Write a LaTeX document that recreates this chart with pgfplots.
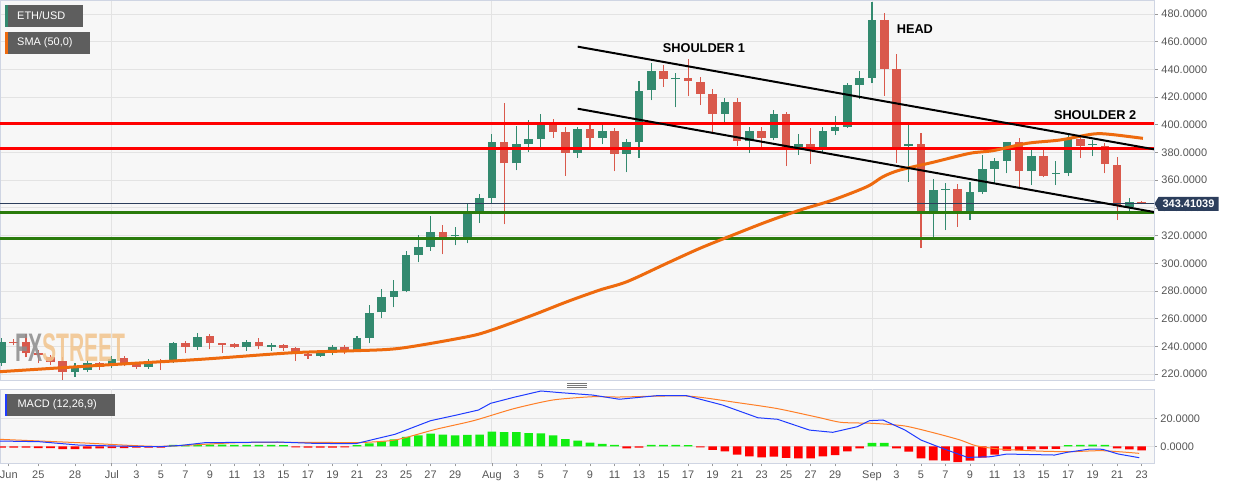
\documentclass[border=0pt]{standalone}
\usepackage{pgfplots}
\pgfplotsset{compat=1.18}
\usepackage{pgfplotstable}
\usepackage{fontspec}
\setmainfont{Liberation Sans}
\definecolor{bgc}{HTML}{F7F7F7}
\definecolor{bordc}{HTML}{CFD5E3}
\definecolor{gridc}{HTML}{E3E3E3}
\definecolor{labc}{HTML}{555555}
\definecolor{cgreen}{HTML}{338A6F}
\definecolor{cred}{HTML}{D9594C}
\definecolor{smac}{HTML}{EE6A0E}
\definecolor{hred}{HTML}{FF0000}
\definecolor{hgreen}{HTML}{2A7B0C}
\definecolor{navyc}{HTML}{2C3E5C}
\definecolor{mblue}{HTML}{1F3BFF}
\definecolor{morange}{HTML}{FF7F27}
\definecolor{histg}{HTML}{11EE11}
\definecolor{histr}{HTML}{FF0000}
\definecolor{boxg}{HTML}{5E5E5E}
\definecolor{wmgray}{HTML}{8C8C8C}
\definecolor{wmorange}{HTML}{F2C48D}
\newcommand\ticksf{\fontsize{11}{13}\selectfont}

% green candles: t low high bodylow bodyhigh
\pgfplotstableread{
t l h bl bh
0 226 246 228.2 243.3
6 218 227.7 221.4 224.6
7 221.7 230.1 222.9 227.7
9 224.5 233 226.3 231.0
12 224 230.6 225.3 228.9
14 228 243.5 229.4 242.2
16 237.3 249.4 239.7 246.9
20 236.8 244.5 239.3 242.9
22 236.8 242.5 239.8 240.9
26 232.5 236.5 233.0 235.9
27 233.5 240.7 237.1 239.5
29 236.8 247.4 237.3 246.0
30 242.2 269.6 246.2 264.3
31 260.2 281.2 264.6 275.6
32 268.2 287.9 275.8 279.9
33 279 309 279.9 305.7
34 300.7 320.2 305.9 311.5
35 309 333.9 311.7 322.3
37 312.9 326.4 319.5 320.3
38 314.4 342.6 319.2 335.3
39 328.9 350 335.3 346.9
40 343.3 393.3 346.9 387.3
42 367.1 399.1 372.2 385.9
43 380.5 403.4 386.1 389.5
44 384.2 407.5 389.7 400.1
47 376.2 398.6 379.8 397.2
49 385.9 399.8 390.7 395.7
51 365.7 389.5 378.9 387.2
52 376.3 431.6 387.2 424.6
53 417.6 444.8 424.9 438.6
55 412.6 437.6 432.8 433.6
59 402.2 419.1 408.0 416.1
61 379.6 398.4 388.0 395.5
63 388.7 410.5 390.8 407.9
65 378.2 393.1 384.0 386.0
67 380.6 398.2 384.2 395.5
68 392.6 406.3 395.7 398.4
69 397.9 430.4 398.6 429.0
70 418.4 439.1 429.0 433.8
71 429.9 488.4 433.8 475.7
74 358.9 399.8 384.6 385.9
76 316.8 360.6 335.3 352.9
77 324.0 358.2 352.9 353.7
79 331.2 358.9 337.7 351.1
80 350.0 378.2 351.2 368.1
81 357.7 376.2 368.1 373.8
82 364.9 387.8 373.8 387.8
84 356.5 384.2 366.6 377.4
86 356.5 373.8 364.6 365.4
87 363.0 394.3 365.4 389.5
89 377.4 389.0 385.5 386.3
92 337.9 346.9 340.4 344.2
}\upc

% red candles: t low high bodylow bodyhigh
\pgfplotstableread{
t l h bl bh
1 240.7 245.1 242.6 243.4
2 232.1 248.7 234.9 242.9
3 227.7 237.3 233.7 234.9
4 226.5 233.7 228.9 232.1
5 213 232.5 221.4 229.2
8 223 229 225.3 228.2
10 225.5 233 227 231.5
11 223.7 229 225.3 227.7
13 222.9 230.6 228.5 229.3
15 234.9 244 239.7 242.2
17 237.8 248.7 242.2 247.4
18 235.4 242.6 241.0 242.2
19 238.5 242.2 239.3 241.4
21 237.8 246.2 240.0 242.9
23 236.8 241.8 238.8 240.7
24 229.6 239.7 234.2 238.5
25 231 235 233.0 234.2
28 234.2 240.7 237.1 239.5
36 306.4 327.4 318.9 322.3
41 328.1 415.5 372.2 387.3
45 390.7 403.9 395.0 400.1
46 363.2 398.6 379.8 394.8
48 384.2 399.8 390.7 397.2
50 366.3 397.9 378.9 395.5
54 427.5 442.9 432.8 438.6
56 420.5 447.3 431.5 433.6
57 414.2 434.2 422.5 431.2
58 395 425.5 408.0 422.1
60 384.9 419.1 388.0 416.1
62 384.2 398.2 390.8 395.5
64 370.2 409.2 384.2 407.9
66 371.8 397.6 384.2 386.0
72 421.0 480.5 440.1 475.7
73 372.2 450.9 384.2 440.1
75 310.8 394.3 335.3 385.9
78 326.4 357.0 337.7 353.4
83 354.8 390.2 366.6 387.8
85 362.1 381.8 363.0 377.4
88 375.8 391.4 384.7 389.5
90 364.9 387.1 371.5 384.7
91 331.2 376.5 341.3 370.7
93 342.6 345.3 343.0 344.2
}\dnc

\pgfplotstableread{
t v
14 1.0
15 1.0
16 1.2
17 1.3
18 1.2
19 1.1
20 1.0
21 1.0
22 1.0
23 0.8
29 0.8
30 2.1
31 3.6
32 5.0
33 6.7
34 7.9
35 9.0
36 8.3
37 7.9
38 8.1
39 8.3
40 10.5
41 10.2
42 10.2
43 9.5
44 9.3
45 7.9
46 5.2
47 4.0
48 2.6
49 1.7
50 1.0
53 1.0
54 1.1
55 1.0
56 0.8
71 2.4
72 2.4
87 0.8
88 1.0
89 1.3
90 1.0
}\hpos

\pgfplotstableread{
t v
0 -1.0
1 -1.0
2 -1.0
3 -1.2
4 -1.2
5 -1.9
6 -1.9
7 -1.6
8 -1.4
9 -1.3
10 -1.2
11 -1.0
12 -1.0
13 -0.9
24 -0.8
25 -1.0
26 -1.0
27 -1.0
28 -0.8
51 -1.4
52 -1.0
57 -0.8
58 -2.6
59 -3.6
60 -6.0
61 -7.1
62 -7.9
63 -7.4
64 -8.3
65 -8.6
66 -8.6
67 -7.1
68 -6.2
69 -3.6
70 -1.4
73 -1.4
74 -3.8
75 -8.6
76 -10.0
77 -10.2
78 -11.2
79 -10.2
80 -8.1
81 -6.0
82 -3.0
83 -2.8
84 -2.2
85 -2.0
86 -1.8
91 -1.4
92 -2.2
93 -2.8
}\hneg

\pgfplotsset{
  panel/.style={
    scale only axis, width=1154bp,
    xmin=-0.12, xmax=94.0,
    axis background/.style={fill=bgc},
    axis line style={draw=bordc, line width=0.8bp},
    tick align=outside, major tick length=4bp,
    ytick pos=right, yticklabel pos=right,
    ytick style={draw=labc!60, line width=0.7bp},
    tick label style={font=\ticksf, text=labc},
    yticklabel style={/pgf/number format/.cd, fixed, fixed zerofill, precision=4, 1000 sep={}, assume math mode=true},
    scaled y ticks=false,
    major grid style={draw=gridc, line width=0.8bp},
  }
}

\begin{document}
\begin{tikzpicture}[x=1bp,y=1bp]

% ---------------- main price panel ----------------
\begin{axis}[panel,
  name=main,
  at={(0bp,0bp)}, anchor=south west, height=380bp,
  ymin=215.7, ymax=490.1,
  ytick={220,240,...,480},
  xtick={9,40,71}, xticklabels={}, xtick style={draw=none},
  grid=major,
]
% wicks
\addplot[draw=none, mark=none, forget plot,
  error bars/.cd, y dir=plus, y explicit, error mark=none,
  error bar style={line width=1.1bp, draw=cgreen, solid}]
  table[x=t, y=l, y error expr=\thisrow{h}-\thisrow{l}] {\upc};
\addplot[draw=none, mark=none, forget plot,
  error bars/.cd, y dir=plus, y explicit, error mark=none,
  error bar style={line width=1.1bp, draw=cred, solid}]
  table[x=t, y=l, y error expr=\thisrow{h}-\thisrow{l}] {\dnc};
% bodies
\addplot[draw=none, mark=none, forget plot,
  error bars/.cd, y dir=plus, y explicit, error mark=none,
  error bar style={line width=8.6bp, draw=cgreen, solid}]
  table[x=t, y=bl, y error expr=\thisrow{bh}-\thisrow{bl}] {\upc};
\addplot[draw=none, mark=none, forget plot,
  error bars/.cd, y dir=plus, y explicit, error mark=none,
  error bar style={line width=8.6bp, draw=cred, solid}]
  table[x=t, y=bl, y error expr=\thisrow{bh}-\thisrow{bl}] {\dnc};
% support / resistance
\addplot[hred, line width=3.2bp, forget plot] coordinates {(-1,401.0) (95,401.0)};
\addplot[hred, line width=3.2bp, forget plot] coordinates {(-1,383.0) (95,383.0)};
\addplot[hgreen, line width=3.2bp, forget plot] coordinates {(-1,336.8) (95,336.8)};
\addplot[hgreen, line width=3.2bp, forget plot] coordinates {(-1,318.0) (95,318.0)};
\addplot[navyc, line width=0.9bp, forget plot] coordinates {(-1,343.41) (95,343.41)};
% SMA 50
\addplot[smac, line width=3bp, smooth, tension=0.5, forget plot] coordinates {
(-0.13,221.7) (8.03,226.3) (16.19,230.6) (23.77,235.4) (28.67,236.8) (32.5,238.6)
(37.97,246.9) (40.0,251.8) (43.35,262.6) (46.12,272.2) (48.81,280.7) (51.02,286.7)
(54.28,300.0) (56.97,310.8) (59.66,320.4) (62.43,330.0) (65.13,338.4) (67.82,345.7)
(70.59,355.3) (71.9,362.5) (73.28,367.3) (75.98,372.9) (78.99,379.4) (80.87,381.3)
(83.65,386.6) (86.33,389.0) (89.02,393.3) (90.41,393.1) (93.1,390.2)};
% trend lines
\addplot[black, line width=2bp, forget plot] coordinates {(47.0,456.4) (94.0,382.3)};
\addplot[black, line width=2bp, forget plot] coordinates {(47.0,411.6) (94.0,337.0)};
\node[font=\fontsize{12.8}{14}\selectfont\bfseries] at (axis cs:57.3,455) {SHOULDER 1};
\node[font=\fontsize{12.8}{14}\selectfont\bfseries] at (axis cs:74.5,469) {HEAD};
\node[font=\fontsize{12.8}{14}\selectfont\bfseries] at (axis cs:89.2,407.3) {SHOULDER 2};
\end{axis}

% ---------------- MACD panel ----------------
\begin{axis}[panel,
  name=macd,
  at={(0bp,-9.3bp)}, anchor=north west, height=74bp,
  ymin=-12.1, ymax=40.7,
  ytick={0,20},
  xtick pos=bottom,
  xtick={0.6,3,6,9,11,13,15,17,19,21,23,25,27,29,31,33,35,37,40,42,44,46,48,50,52,54,56,58,60,62,64,66,68,71,73,75,77,79,81,83,85,87,89,91,93},
  xticklabels={Jun,25,28,Jul,3,5,7,9,11,13,15,17,19,21,23,25,27,29,Aug,3,5,7,9,11,13,15,17,19,21,23,25,27,29,Sep,3,5,7,9,11,13,15,17,19,21,23},
  xtick style={draw=labc!60, line width=0.7bp},
  major tick length=3bp,
  xticklabel style={yshift=-1bp},
  ymajorgrids=true,
  extra x ticks={9,40,71}, extra x tick labels={},
  extra x tick style={xmajorgrids=true, tick style={draw=none}},
]
\addplot[ybar, bar width=8.6bp, bar shift=0pt, fill=histg, draw=none, forget plot] table[x=t, y=v] {\hpos};
\addplot[ybar, bar width=8.6bp, bar shift=0pt, fill=histr, draw=none, forget plot] table[x=t, y=v] {\hneg};
\addplot[morange, line width=1bp, smooth, tension=0.4, forget plot] coordinates {
(-0.13,5.0) (6.3,2.6) (12.8,0.0) (19.2,2.6) (25.6,2.9) (28.9,2.6) (32.1,4.5)
(35.4,12.1) (38.5,18.3) (41.8,26.9) (45.0,33.1) (48.2,35.4) (50.4,35.2) (55.9,35.9)
(60.1,31.1) (63.3,26.9) (66.6,20.7) (68.5,17.1) (71.1,16.4) (73.7,14.5) (76.2,9.3)
(78.2,4.5) (79.5,0.4) (81.4,-1.9) (84.6,-3.4) (87.2,-3.8) (89.8,-3.1) (92.8,-5.0)};
\addplot[mblue, line width=1bp, forget plot] coordinates {
(-0.13,3.8) (3.1,3.3) (6.3,0.9) (9.5,0.2) (12.8,-0.3) (14.7,0.7) (16.6,2.6)
(22.5,3.1) (25.6,2.1) (28.9,1.9) (30.8,5.9) (32.1,8.6) (35.0,18.3) (37.0,22.1)
(38.9,25.9) (39.9,30.7) (41.8,35.0) (44.0,39.5) (45.6,38.3) (48.2,36.6) (50.4,33.6)
(53.4,36.1) (55.9,36.1) (58.8,29.5) (61.7,20.4) (63.3,19.3) (65.9,11.6) (67.8,10.0)
(69.8,14.0) (70.8,18.3) (71.9,18.8) (73.7,11.6) (75.0,4.5) (76.2,0.4) (77.5,-3.8)
(78.8,-7.9) (80.7,-7.4) (82.0,-5.5) (85.9,-6.2) (86.9,-4.3) (88.8,-1.9) (89.8,-2.1)
(91.1,-5.5) (92.8,-8.1)};
\end{axis}

% ---------------- labels and decorations (main axis bottom = 0, image top = 380) ----------------
% legend boxes
\fill[boxg] (5bp,353bp) rectangle (83bp,375bp);
\fill[cgreen] (5bp,353bp) rectangle (7.7bp,375bp);
\node[anchor=west, text=white, font=\ticksf, inner sep=0] at (17bp,364bp) {ETH/USD};
\fill[boxg] (5bp,326bp) rectangle (90bp,348bp);
\fill[smac] (5bp,326bp) rectangle (7.7bp,348bp);
\node[anchor=west, text=white, font=\ticksf, inner sep=0] at (17bp,337bp) {SMA (50,0)};
\fill[boxg] (4.7bp,-35.7bp) rectangle (114.6bp,-14bp);
\fill[mblue] (4.7bp,-35.7bp) rectangle (7.4bp,-14bp);
\node[anchor=west, text=white, font=\ticksf, inner sep=0] at (17.4bp,-24.8bp) {MACD (12,26,9)};
% current price tag
\fill[navyc] (1154.5bp,176.5bp) -- (1158.5bp,183bp) -- (1218.5bp,183bp) -- (1218.5bp,169bp) -- (1158.5bp,169bp) -- cycle;
\node[text=white, font=\ticksf\bfseries, inner sep=0] at (1188.5bp,176bp) {343.41039};
% watermark
\node[anchor=south west, inner sep=0, xscale=0.53, opacity=0.85] at (15bp,18bp)
  {\fontsize{40}{40}\selectfont\bfseries\textcolor{wmgray}{FX}\textcolor{wmorange}{STREET}};
% panel handle
\draw[labc!80, line width=0.6bp] (567bp,-3.5bp) -- (587bp,-3.5bp);
\draw[labc!80, line width=0.6bp] (567bp,-5.4bp) -- (587bp,-5.4bp);
\draw[labc!80, line width=0.6bp] (567bp,-7.3bp) -- (587bp,-7.3bp);

\pgfresetboundingbox
\path[use as bounding box] (0bp,-109bp) rectangle (1244bp,380bp);
\end{tikzpicture}
\end{document}
